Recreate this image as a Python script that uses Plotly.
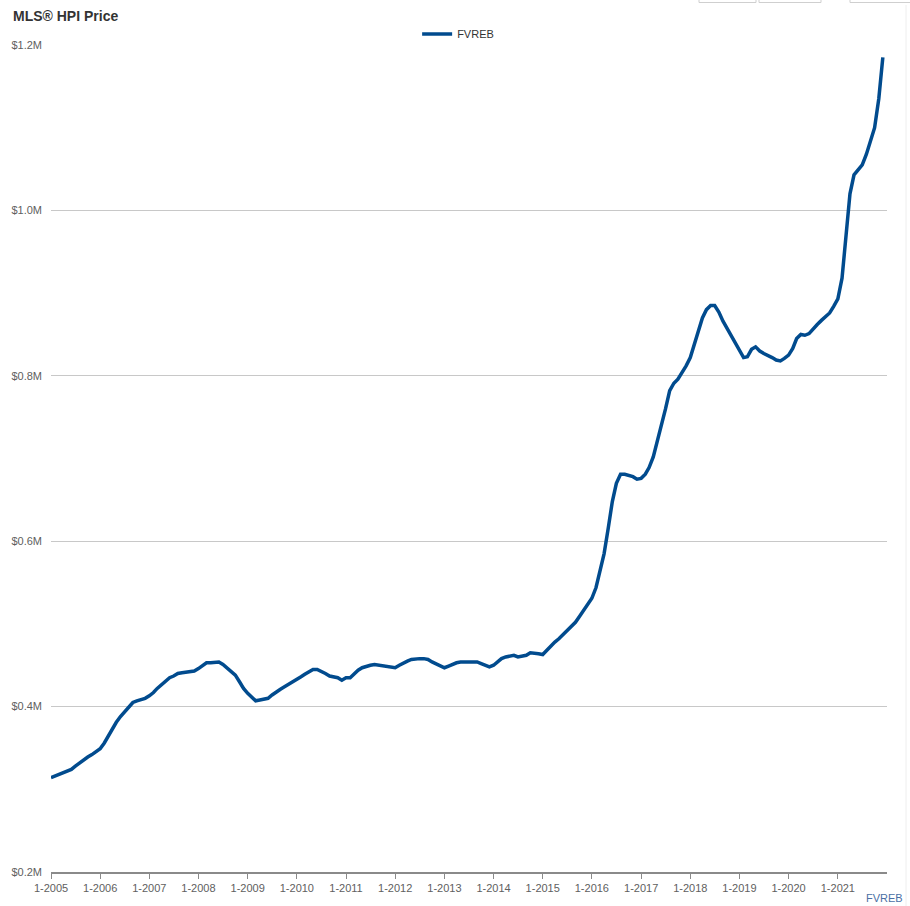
import plotly.graph_objects as go

# ---- data (monthly MLS HPI benchmark price, $M) ----
years = list(range(2005, 2022))
hpi_2005 = [0.314, 0.316, 0.317, 0.319, 0.321, 0.324, 0.328, 0.332, 0.336, 0.339, 0.342, 0.345]
hpi_2006 = [0.349, 0.356, 0.364, 0.372, 0.381, 0.388, 0.394, 0.400, 0.405, 0.407, 0.408, 0.410]
hpi_2007 = [0.413, 0.417, 0.422, 0.426, 0.431, 0.435, 0.437, 0.440, 0.441, 0.442, 0.442, 0.443]
hpi_2008 = [0.446, 0.450, 0.453, 0.453, 0.453, 0.454, 0.451, 0.447, 0.443, 0.438, 0.430, 0.422]
hpi_2009 = [0.416, 0.411, 0.407, 0.408, 0.409, 0.410, 0.414, 0.418, 0.421, 0.424, 0.427, 0.429]
hpi_2010 = [0.432, 0.436, 0.439, 0.442, 0.445, 0.445, 0.443, 0.440, 0.437, 0.436, 0.435, 0.432]
hpi_2011 = [0.435, 0.435, 0.440, 0.444, 0.447, 0.449, 0.450, 0.451, 0.450, 0.450, 0.449, 0.448]
hpi_2012 = [0.447, 0.450, 0.453, 0.455, 0.457, 0.458, 0.458, 0.458, 0.457, 0.454, 0.452, 0.449]
hpi_2013 = [0.447, 0.449, 0.451, 0.453, 0.454, 0.454, 0.455, 0.455, 0.454, 0.452, 0.450, 0.448]
hpi_2014 = [0.450, 0.454, 0.458, 0.460, 0.461, 0.462, 0.460, 0.461, 0.462, 0.465, 0.465, 0.464]
hpi_2015 = [0.463, 0.468, 0.474, 0.478, 0.482, 0.487, 0.492, 0.497, 0.502, 0.509, 0.517, 0.524]
hpi_2016 = [0.531, 0.544, 0.565, 0.585, 0.615, 0.648, 0.670, 0.681, 0.681, 0.680, 0.678, 0.675]
hpi_2017 = [0.676, 0.681, 0.689, 0.702, 0.720, 0.738, 0.760, 0.782, 0.791, 0.796, 0.804, 0.812]
hpi_2018 = [0.822, 0.838, 0.856, 0.870, 0.880, 0.885, 0.885, 0.877, 0.866, 0.857, 0.849, 0.840]
hpi_2019 = [0.830, 0.822, 0.823, 0.832, 0.835, 0.830, 0.827, 0.825, 0.822, 0.819, 0.818, 0.821]
hpi_2020 = [0.825, 0.833, 0.845, 0.850, 0.849, 0.851, 0.857, 0.862, 0.867, 0.871, 0.876, 0.884]
hpi_2021 = [0.893, 0.918, 0.970, 1.020, 1.043, 1.050, 1.055, 1.068, 1.083, 1.100, 1.135, 1.185]

yearly = [hpi_2005, hpi_2006, hpi_2007, hpi_2008, hpi_2009, hpi_2010, hpi_2011,
          hpi_2012, hpi_2013, hpi_2014, hpi_2015, hpi_2016, hpi_2017, hpi_2018,
          hpi_2019, hpi_2020, hpi_2021]

y_ticks = [0.2, 0.4, 0.6, 0.8, 1.0, 1.2]
y_tick_labels = ["$0.2M", "$0.4M", "$0.6M", "$0.8M", "$1.0M", "$1.2M"]
x_tick_labels = [f"1-{y}" for y in years]
series_name = "FVREB"

dates, values = [], []
for yr, vals in zip(years, yearly):
    for m, v in enumerate(vals, start=1):
        dates.append(f"{yr}-{m:02d}-01")
        values.append(v * 1e6)

FONT = "Liberation Sans, Arial, sans-serif"

fig = go.Figure()
fig.add_trace(go.Scatter(
    x=dates, y=values, mode="lines", name=series_name,
    line=dict(color="#014b8e", width=3.5),
    hoverinfo="skip",
))

fig.update_layout(
    width=910, height=906,
    margin=dict(l=51, r=23, t=45, b=34, autoexpand=False),
    paper_bgcolor="white", plot_bgcolor="white",
    font=dict(family=FONT, size=11, color="#606060"),
    title=dict(text="<b>MLS® HPI Price</b>", x=13 / 910, xref="container", xanchor="left",
               y=1 - 16 / 906, yref="container", yanchor="middle",
               font=dict(family=FONT, size=14, color="#333333")),
    showlegend=True,
    legend=dict(orientation="h", x=0.487, xanchor="center", y=1 + 11 / 827, yanchor="middle",
                font=dict(family=FONT, size=11, color="#333333"),
                itemwidth=30, bgcolor="rgba(0,0,0,0)"),
    xaxis=dict(
        type="date", range=["2005-01-01", "2022-01-01"],
        tickvals=[f"{y}-01-01" for y in years], ticktext=x_tick_labels,
        showgrid=False, showline=True, linecolor="#8a8a8a", linewidth=2,
        ticks="outside", ticklen=5, tickcolor="#8a8a8a", tickwidth=1,
        tickfont=dict(family=FONT, size=11, color="#606060"),
        zeroline=False,
    ),
    yaxis=dict(
        range=[0.2e6, 1.2e6],
        tickvals=[v * 1e6 for v in y_ticks], ticktext=y_tick_labels,
        showgrid=True, gridcolor="#c8c8c8", gridwidth=1,
        showline=False, zeroline=False, ticks="",
        ticklabelstandoff=8,
        tickfont=dict(family=FONT, size=11, color="#606060"),
    ),
    annotations=[dict(
        text="FVREB", xref="paper", yref="paper", x=(905 - 51) / 836, y=-(898 - 872) / 827,
        xanchor="right", yanchor="middle", showarrow=False,
        font=dict(family=FONT, size=11, color="#4a6fa5"),
    )],
    shapes=[
        dict(type="rect", xref="paper", yref="paper",
             x0=(699 - 51) / 836, x1=(756 - 51) / 836, y0=1 + (45 - 2.5) / 827, y1=1 + 60 / 827,
             line=dict(color="#cfcfcf", width=1), fillcolor="white", layer="above"),
        dict(type="rect", xref="paper", yref="paper",
             x0=(759 - 51) / 836, x1=(821 - 51) / 836, y0=1 + (45 - 2.5) / 827, y1=1 + 60 / 827,
             line=dict(color="#cfcfcf", width=1), fillcolor="white", layer="above"),
        dict(type="rect", xref="paper", yref="paper",
             x0=(850 - 51) / 836, x1=(912 - 51) / 836, y0=1 + (45 - 2.5) / 827, y1=1 + 60 / 827,
             line=dict(color="#cfcfcf", width=1), fillcolor="white", layer="above"),
        dict(type="line", xref="paper", yref="paper",
             x0=(906 - 51) / 836, x1=(906 - 51) / 836, y0=-34 / 827, y1=1 + 40 / 827,
             line=dict(color="#eeeeee", width=1), layer="above"),
    ],
)

fig.write_html("out.html",
               config={"displayModeBar": False},
               post_script="document.body.style.margin='0';document.body.style.overflow='hidden';")
